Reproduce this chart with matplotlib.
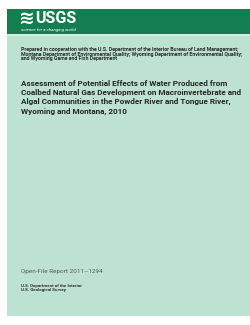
import matplotlib
matplotlib.use("Agg")
import matplotlib.pyplot as plt
from matplotlib.patches import Rectangle

# cover text
prepared_lines = [
    "Prepared in cooperation with the U.S. Department of the Interior Bureau of Land Management;",
    "Montana Department of Environmental Quality; Wyoming Department of Environmental Quality;",
    "and Wyoming Game and Fish Department",
]
title_lines = [
    "Assessment of Potential Effects of Water Produced from",
    "Coalbed Natural Gas Development on Macroinvertebrate and",
    "Algal Communities in the Powder River and Tongue River,",
    "Wyoming and Montana, 2010",
]
report_label = "Open-File Report 2011\u20131294"
agency_lines = ["U.S. Department of the Interior", "U.S. Geological Survey"]
logo_word = "USGS"
logo_tag = "science for a changing world"

W, H = 251, 325
fig = plt.figure(figsize=(W / 100, H / 100), dpi=100)
ax = fig.add_axes([0, 0, 1, 1])
ax.set_xlim(0, W)
ax.set_ylim(H, 0)
ax.axis("off")
renderer = fig.canvas.get_renderer()

FONT = ["Roboto", "DejaVu Sans"]


def fit_size(text, width_px, **kw):
    """Font size (pt) that makes `text` span width_px pixels."""
    t = fig.text(0, 0, text, fontsize=10, family=FONT, **kw)
    w = t.get_window_extent(renderer).width
    t.remove()
    return 10 * width_px / w


# page and header band
ax.add_patch(Rectangle((7, 9), 244, 307, color="#bee2d2", lw=0))
ax.add_patch(Rectangle((7, 9), 244, 25, color="#137f51", lw=0))
ax.add_patch(Rectangle((7, 34), 244, 1.5, color="#d3ece1", lw=0))

# logo
ax.text(19, 18, "\u224b", color="white", fontsize=13.5, fontweight="bold",
        family="DejaVu Sans", va="center", ha="left")
ax.text(35, 18.5, logo_word, color="white",
        fontsize=fit_size(logo_word, 41, fontweight="bold"),
        fontweight="bold", family=FONT, va="center", ha="left")
ax.text(21, 29.5, logo_tag, color="white",
        fontsize=fit_size(logo_tag, 54, fontstyle="italic"),
        family=FONT, fontstyle="italic", va="center", ha="left")

size_prep = fit_size(prepared_lines[0], 222, fontweight="bold")
for i, line in enumerate(prepared_lines):
    ax.text(21, 50 + i * 4.4, line, color="#2b2b2b", fontsize=size_prep,
            fontweight="bold", family=FONT, va="center", ha="left")

size_title = fit_size(title_lines[1], 221, fontweight="bold")
for i, line in enumerate(title_lines):
    ax.text(21, 83 + i * 9.3, line, color="#262626", fontsize=size_title,
            fontweight="bold", family=FONT, va="center", ha="left")

ax.text(21, 271, report_label, color="#5a5a5a",
        fontsize=fit_size(report_label, 82), family=FONT,
        va="center", ha="left")

size_ag = fit_size(agency_lines[0], 61, fontweight="bold")
for i, line in enumerate(agency_lines):
    ax.text(21, 286 + i * 3.9, line, color="#2b2b2b", fontsize=size_ag,
            fontweight="bold", family=FONT, va="center", ha="left")

fig.savefig("out.png", dpi=100)
